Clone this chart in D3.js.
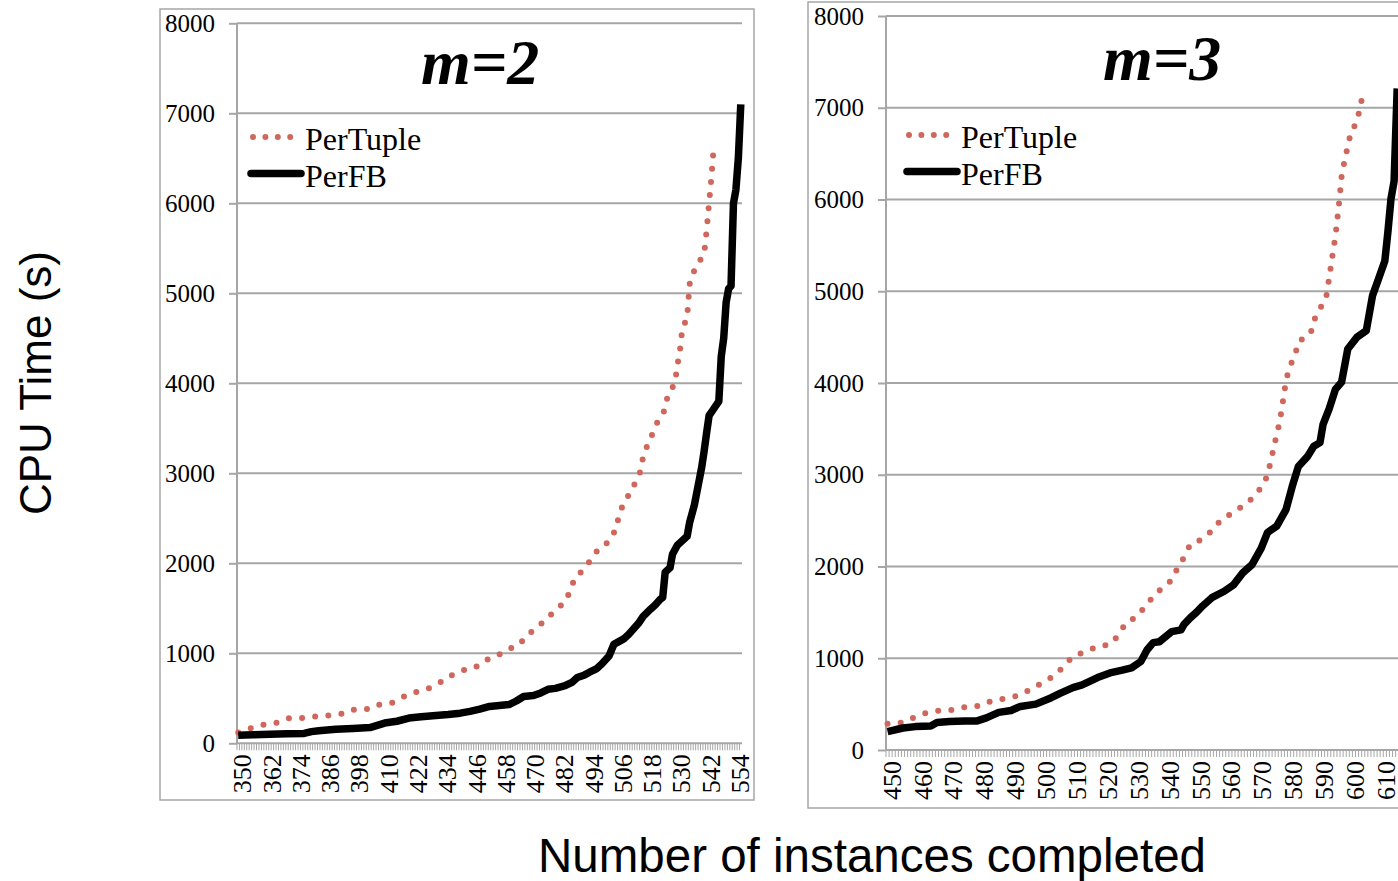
<!DOCTYPE html>
<html>
<head>
<meta charset="utf-8">
<script src="https://cdn.jsdelivr.net/npm/d3@7"></script>
<style>
	body { margin: 0; background: #ffffff; }
	svg { display: block; }
	.cpu-frame { fill: none; stroke: #a6a6a6; stroke-width: 1.5; }
	.cpu-grid line { stroke: #a6a6a6; stroke-width: 2; }
	.cpu-axis path, .cpu-axis line { stroke: #a6a6a6; stroke-width: 2; }
	.cpu-axis text { font-family: 'Liberation Serif', 'Times New Roman', serif; font-size: 25px; fill: #000; }
	.cpu-comb line { stroke: #a6a6a6; stroke-width: 1; }
	.cpu-title { font-family: 'Liberation Serif', 'Times New Roman', serif; font-size: 64px; font-weight: bold; font-style: italic; }
	.cpu-legend-text { font-family: 'Liberation Serif', 'Times New Roman', serif; font-size: 32px; }
	.cpu-axis-title { font-family: 'Liberation Sans', Arial, sans-serif; }
</style>
</head>
<body>
<svg id="chart" width="1398" height="881"></svg>
<script>
'use strict';

// instances completed (category range of each panel)
var m2FirstInstance = 350, m2LastInstance = 556;
var m3FirstInstance = 450, m3LastInstance = 618;

var m2TickLabels = [350, 362, 374, 386, 398, 410, 422, 434, 446, 458, 470, 482, 494, 506, 518, 530, 542, 554];
var m3TickLabels = [450, 460, 470, 480, 490, 500, 510, 520, 530, 540, 550, 560, 570, 580, 590, 600, 610];
var cpuTicks = [0, 1000, 2000, 3000, 4000, 5000, 6000, 7000, 8000];

var seriesNames = ['PerTuple', 'PerFB'];

// [instance, CPU seconds]
var m2PerTuple = [[350,120],[356,175],[361,210],[366,230],[371,280],[377,280],[382,300],[388,310],[393,330],[398,380],
	[404,380],[408,430],[413,450],[418,520],[423,570],[428,610],[433,680],[437,750],[442,810],[447,840],[451,920],
	[456,970],[460,1040],[465,1090],[468,1190],[472,1280],[476,1370],[480,1480],[484,1570],[486,1690],[488,1840],
	[492,1940],[495,2060],[498,2170],[502,2240],[505,2390],[506,2530],[508,2670],[511,2800],[513,2910],[515,3030],
	[516,3190],[518,3330],[520,3450],[522,3580],[525,3710],[526,3860],[529,4000],[530,4200],[531,4350],[532,4600],
	[534,4730],[535,5100],[536,5200],[538,5310],[541,5440],[542,5700],[543,6000],[544,6300],[545,6660]];

var m2PerFB = [[350,90],[356,95],[363,100],[370,105],[377,110],[380,130],[383,140],[390,155],[397,165],[404,175],
	[407,200],[410,225],[415,245],[420,280],[425,295],[431,310],[436,320],[441,335],[445,355],[449,380],[453,410],
	[457,420],[461,430],[464,470],[467,520],[471,530],[474,560],[477,600],[480,610],[484,640],[487,680],[489,730],
	[492,760],[494,790],[497,830],[499,880],[502,970],[504,1100],[506,1130],[508,1160],[510,1210],[512,1270],
	[514,1330],[516,1410],[519,1490],[521,1540],[523,1600],[524,1620],[525,1900],[527,1950],[528,2100],[530,2200],
	[532,2250],[534,2300],[535,2450],[537,2650],[539,2930],[540,3070],[541,3250],[542,3450],[543,3640],[545,3720],
	[547,3800],[548,4300],[549,4500],[550,4900],[551,5050],[552,5080],[553,6000],[554,6150],[555,6500],[556,7100]];

var m3PerTuple = [[450,285],[455,300],[459,360],[463,410],[467,430],[472,440],[476,475],[480,480],[484,540],[488,560],
	[493,600],[497,675],[500,730],[504,810],[507,910],[510,1020],[514,1070],[518,1130],[522,1150],[525,1260],
	[527,1380],[531,1460],[533,1550],[536,1670],[539,1770],[542,1850],[544,1990],[546,2100],[548,2240],[552,2300],
	[555,2390],[558,2510],[562,2590],[565,2660],[568,2740],[571,2860],[573,2990],[574,3140],[575,3290],[576,3440],
	[577,3580],[578,3800],[579,4020],[580,4160],[582,4310],[583,4450],[587,4540],[588,4680],[590,4810],[592,4930],
	[593,5150],[594,5380],[595,5600],[596,5900],[597,6250],[598,6430],[599,6580],[600,6730],[602,6850],[603,7010],
	[604,7160]];

var m3PerFB = [[450,200],[455,240],[459,255],[464,262],[466,300],[470,310],[475,315],[479,317],[482,350],[486,410],
	[490,430],[493,475],[498,500],[503,570],[506,620],[510,680],[513,710],[518,790],[522,840],[526,870],[529,895],
	[532,965],[534,1090],[536,1170],[538,1180],[542,1290],[545,1310],[546,1370],[548,1440],[550,1500],[552,1570],
	[555,1660],[559,1730],[562,1800],[565,1930],[568,2020],[571,2200],[573,2370],[576,2440],[579,2620],[581,2870],
	[583,3090],[586,3200],[588,3310],[590,3350],[591,3550],[593,3720],[595,3930],[597,4010],[599,4370],[602,4500],
	[605,4570],[607,4950],[609,5140],[611,5330],[612,5650],[613,6010],[614,6200],[615,7210]];

function DrawPanel(sSvg, aProps)
{
	var rFrame = aProps.frame;
	var rPlot = aProps.plot;

	sSvg.append('rect')
		.attr('class', 'cpu-frame')
		.attr('x', rFrame.x).attr('y', rFrame.y)
		.attr('width', rFrame.w).attr('height', rFrame.h);

	var aCategories = d3.range(aProps.first, aProps.last + 1);

	var scaleX = d3.scaleBand()
		.domain(aCategories)
		.range([rPlot.left, rPlot.right]);
	var nHalf = scaleX.bandwidth() / 2;

	var scaleY = d3.scaleLinear()
		.domain([0, 8000])
		.range([rPlot.bottom, rPlot.top]);

	var sPlot = sSvg.append('g');

	// horizontal gridlines
	sPlot.append('g')
		.attr('class', 'cpu-grid')
		.selectAll('line')
		.data(cpuTicks.slice(1))
		.enter()
			.append('line')
				.attr('x1', rPlot.left)
				.attr('x2', rPlot.right)
				.attr('y1', function(d) { return scaleY(d); })
				.attr('y2', function(d) { return scaleY(d); });

	// y axis
	sPlot.append('g')
		.attr('class', 'cpu-axis')
		.attr('transform', 'translate(' + rPlot.left + ',0)')
		.call(d3.axisLeft(scaleY).tickValues(cpuTicks).tickSize(8).tickPadding(14).tickFormat(d3.format('d')))
		.selectAll('path').attr('d', 'M0,' + rPlot.top + 'V' + rPlot.bottom);

	// category tick comb
	sPlot.append('g')
		.attr('class', 'cpu-comb')
		.selectAll('line')
		.data(aCategories)
		.enter()
			.append('line')
				.attr('x1', function(d) { return scaleX(d); })
				.attr('x2', function(d) { return scaleX(d); })
				.attr('y1', rPlot.bottom)
				.attr('y2', rPlot.bottom + 7);

	// x axis with rotated labels
	var sAxisX = sPlot.append('g')
		.attr('class', 'cpu-axis')
		.attr('transform', 'translate(0,' + rPlot.bottom + ')')
		.call(d3.axisBottom(scaleX).tickValues(aProps.tickLabels).tickSize(0).tickSizeOuter(0));
	sAxisX.select('path').attr('d', 'M' + rPlot.left + ',0H' + rPlot.right);
	sAxisX.selectAll('text')
		.attr('transform', 'rotate(-90)')
		.attr('x', -11)
		.attr('y', 4)
		.attr('dy', '0.35em')
		.style('font-size', '26px')
		.style('text-anchor', 'end');

	var lineGen = d3.line()
		.x(function(d) { return scaleX(d[0]) + nHalf; })
		.y(function(d) { return scaleY(d[1]); });

	sPlot.append('path')
		.datum(aProps.perTuple)
		.attr('d', lineGen)
		.attr('fill', 'none')
		.attr('stroke', '#d0675c')
		.attr('stroke-width', 6)
		.attr('stroke-linecap', 'round')
		.attr('stroke-dasharray', '0,13.2');

	sPlot.append('path')
		.datum(aProps.perFB)
		.attr('d', lineGen)
		.attr('fill', 'none')
		.attr('stroke', '#000')
		.attr('stroke-width', 7.5)
		.attr('stroke-linejoin', 'round');

	// title
	sSvg.append('text')
		.attr('class', 'cpu-title')
		.attr('x', aProps.title.x)
		.attr('y', aProps.title.y)
		.style('text-anchor', 'middle')
		.text(aProps.title.text);

	// legend
	var sLegends = sSvg.append('g')
		.attr('transform', 'translate(' + aProps.legend.x + ',' + aProps.legend.y + ')')
		.selectAll('.legend')
		.data(seriesNames)
		.enter()
			.append('g')
				.attr('transform', function(d, i) { return 'translate(0,' + (i * 36.5) + ')'; });

	sLegends.append('line')
		.attr('x1', function(d, i) { return i == 0 ? 2 : 0; })
		.attr('x2', function(d, i) { return i == 0 ? 48 : 50; })
		.attr('stroke', function(d, i) { return i == 0 ? '#d0675c' : '#000'; })
		.attr('stroke-width', function(d, i) { return i == 0 ? 6 : 7.5; })
		.attr('stroke-linecap', 'round')
		.attr('stroke-dasharray', function(d, i) { return i == 0 ? '0,12.4' : null; });

	sLegends.append('text')
		.attr('class', 'cpu-legend-text')
		.attr('x', 54)
		.attr('y', 13)
		.text(function(d) { return d; });
}

var sSvg = d3.select('#chart');

DrawPanel(sSvg, {
	frame: {x: 160, y: 9, w: 594, h: 791},
	plot: {left: 237, right: 742, top: 23.3, bottom: 743.3},
	first: m2FirstInstance, last: m2LastInstance,
	tickLabels: m2TickLabels,
	perTuple: m2PerTuple, perFB: m2PerFB,
	title: {text: 'm=2', x: 480, y: 84},
	legend: {x: 251, y: 137}
});

DrawPanel(sSvg, {
	frame: {x: 808, y: 2, w: 700, h: 806},
	plot: {left: 886, right: 1408, top: 16, bottom: 750},
	first: m3FirstInstance, last: m3LastInstance,
	tickLabels: m3TickLabels,
	perTuple: m3PerTuple, perFB: m3PerFB,
	title: {text: 'm=3', x: 1162, y: 80},
	legend: {x: 907, y: 135}
});

sSvg.append('text')
	.attr('class', 'cpu-axis-title')
	.attr('transform', 'translate(51,383) rotate(-90)')
	.style('font-size', '44px')
	.style('text-anchor', 'middle')
	.text('CPU Time (s)');

sSvg.append('text')
	.attr('class', 'cpu-axis-title')
	.attr('x', 872)
	.attr('y', 872)
	.style('font-size', '47.5px')
	.style('text-anchor', 'middle')
	.text('Number of instances completed');
</script>
</body>
</html>
